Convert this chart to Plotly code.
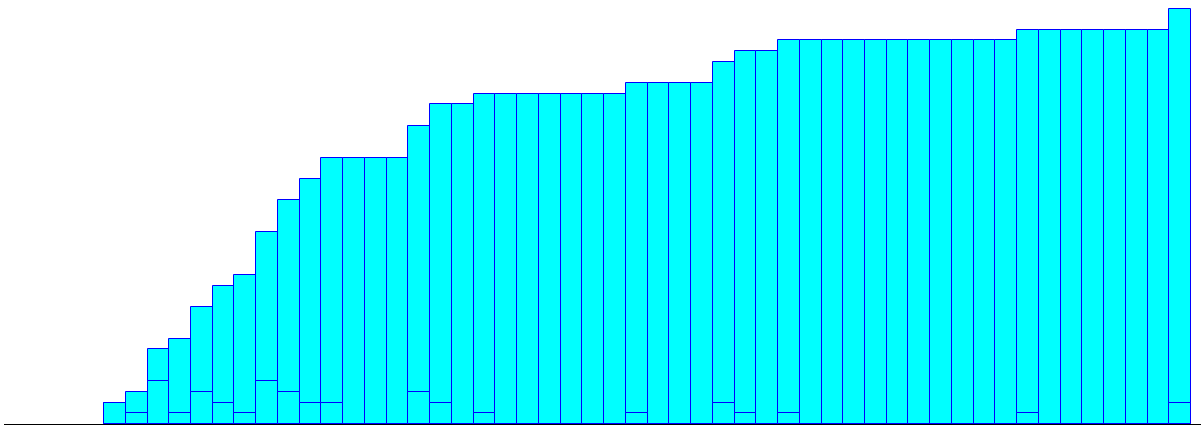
import plotly.graph_objects as go

days = list(range(1, 51))
daily = [2, 1, 4, 1, 3, 2, 1, 4, 3, 2,
         2, 0, 0, 0, 3, 2, 0, 1, 0, 0,
         0, 0, 0, 0, 1, 0, 0, 0, 2, 1,
         0, 1, 0, 0, 0, 0, 0, 0, 0, 0,
         0, 0, 1, 0, 0, 0, 0, 0, 0, 2]
cumulative = [2, 3, 7, 8, 11, 13, 14, 18, 21, 23,
              25, 25, 25, 25, 28, 30, 30, 31, 31, 31,
              31, 31, 31, 31, 32, 32, 32, 32, 34, 35,
              35, 36, 36, 36, 36, 36, 36, 36, 36, 36,
              36, 36, 37, 37, 37, 37, 37, 37, 37, 39]

fill = "#00ffff"
edge = "#0000ff"

fig = go.Figure()
fig.add_trace(go.Bar(x=days, y=cumulative, marker=dict(color=fill, line=dict(color=edge, width=1)), width=1))
fig.add_trace(go.Bar(x=days, y=daily, marker=dict(color=fill, line=dict(color=edge, width=1)), width=1))

fig.update_layout(
    width=1201, height=425,
    margin=dict(l=4, r=0, t=0, b=1),
    barmode="overlay", bargap=0,
    showlegend=False,
    plot_bgcolor="white", paper_bgcolor="white",
    xaxis=dict(range=[-4.10, 50.955], showgrid=False, zeroline=False, showticklabels=False,
               ticks="", showline=True, linecolor="black", linewidth=1),
    yaxis=dict(range=[0, 39.8], showgrid=False, zeroline=False, showticklabels=False,
               ticks="", showline=False),
)
fig.write_html("out.html", config={"displayModeBar": False},
               post_script="document.body.style.margin='0';document.body.style.overflow='hidden';")
